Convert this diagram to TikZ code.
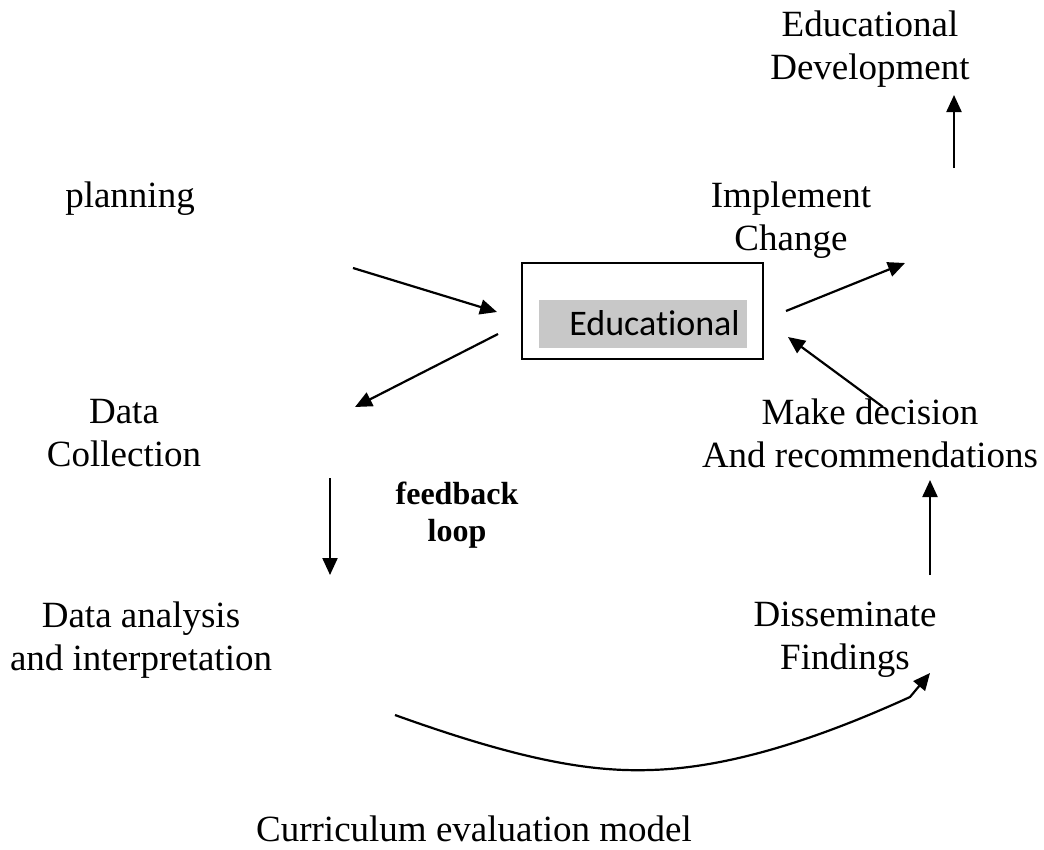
\documentclass[tikz,border=0pt]{standalone}
\usepackage{fontspec}
\setmainfont{Liberation Serif}
\newfontfamily\calibrifont[Ligatures=NoCommon]{Carlito}
\usetikzlibrary{arrows.meta}
\definecolor{boxgrey}{RGB}{200,200,200}
\begin{document}
\begin{tikzpicture}[x=1pt,y=-1pt,
  lbl/.style={font=\fontsize{37}{43}\selectfont, align=center, inner sep=0pt},
  fb/.style={font=\fontsize{32}{37}\selectfont\bfseries, align=center, inner sep=0pt},
  arr/.style={line width=2.2pt, -{Triangle[length=17pt,width=15pt]}},
  frame/.style={draw, line width=2pt, inner sep=0pt}]
\useasboundingbox (0,0) rectangle (1044,849);

% labels
\node[lbl] (edudev) at (870,49.5) {Educational\\Development};
\node[lbl] (planning) at (130,199) {planning};
\node[lbl] (implement) at (791,220.5) {Implement\\Change};
\node[lbl] (datacoll) at (124,433.5) {Data\\Collection};
\node[fb] (feedback) at (457,515.5) {feedback\\loop};
\node[lbl] (decision) at (870,433.5) {Make decision\\And recommendations};
\node[lbl] (analysis) at (141,640) {Data analysis\\and interpretation};
\node[lbl] (dissem) at (845,640) {Disseminate\\Findings};
\node[lbl] (title) at (474,829) {Curriculum evaluation model};

% central box
\node[frame, minimum width=241pt, minimum height=96pt] (box) at (642.5,311) {};
\node[fill=boxgrey, inner sep=0pt, minimum width=208pt, minimum height=48pt] (grey) at (643,324) {};
\node[font=\calibrifont\fontsize{36}{40}\selectfont, inner sep=0pt, anchor=base east] (edutext) at (740,335) {Educational};

% connector end points
\coordinate (p1s) at (353,268);  \coordinate (p1e) at (497,312);
\coordinate (p2s) at (498,334);  \coordinate (p2e) at (355,407);
\coordinate (p3s) at (330,478);  \coordinate (p3e) at (330,575);
\coordinate (p4s) at (395,715);  \coordinate (p4k) at (910,697); \coordinate (p4e) at (930,673);
\coordinate (p5s) at (930,575);  \coordinate (p5e) at (930,480);
\coordinate (p6s) at (883,407);  \coordinate (p6e) at (788,337);
\coordinate (p7s) at (786,311);  \coordinate (p7e) at (905,263);
\coordinate (p8s) at (954,168);  \coordinate (p8e) at (954,95);

% connectors
\draw[arr] (p1s) -- (p1e);
\draw[arr] (p2s) -- (p2e);
\draw[arr] (p3s) -- (p3e);
\draw[arr] (p4s) .. controls (520,760) and (590,772) .. (650,770)
  .. controls (730,768) and (820,738) .. (p4k) -- (p4e);
\draw[arr] (p5s) -- (p5e);
\draw[arr] (p6s) -- (p6e);
\draw[arr] (p7s) -- (p7e);
\draw[arr] (p8s) -- (p8e);
\end{tikzpicture}
\end{document}
